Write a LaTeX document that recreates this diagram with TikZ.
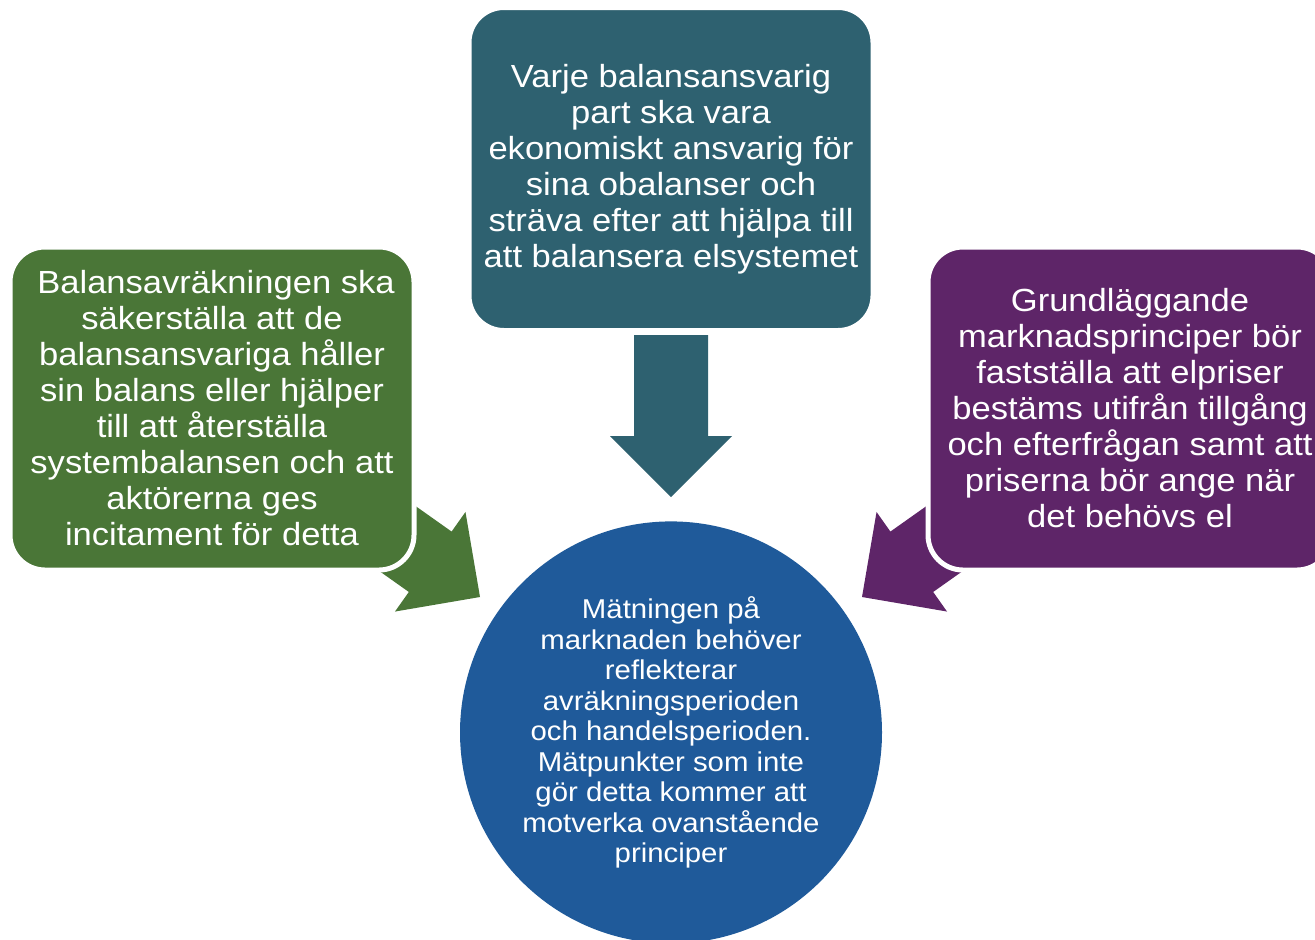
\documentclass[tikz,border=0pt]{standalone}
\usepackage{fontspec}
\setmainfont{Liberation Sans}[FakeStretch=1.08]
\usetikzlibrary{positioning}
\definecolor{slate}{HTML}{2E6170}
\definecolor{leaf}{HTML}{4A7637}
\definecolor{plum}{HTML}{5E2568}
\definecolor{hubblue}{HTML}{1F5A9A}

\begin{document}
\begin{tikzpicture}[
    x=0.5pt, y=-0.5pt,
    box/.style={rectangle, draw=white, line width=2.5pt, rounded corners=17.5pt, minimum width=202pt, minimum height=161.5pt, text=white, align=center, font=\fontsize{16}{18}\selectfont},
    hub/.style={circle, fill=hubblue, minimum size=211pt, inner sep=0pt, text=white, align=center, font=\fontsize{13.6}{15.25}\selectfont},
    blockarrow/.pic={\path[pic actions] (0,0) -- (-61,-61) -- (-61,-37) -- (-162,-37) -- (-162,37) -- (-61,37) -- (-61,61) -- cycle;}
]
\useasboundingbox (0,0) rectangle (1315,939);

% tips of the three block arrows
\coordinate (toptip) at (671,497);
\coordinate (lefttip) at (480,597);
\coordinate (righttip) at (862,597);

\pic[fill=slate, rotate=-90] at (toptip) {blockarrow};
\pic[fill=leaf, rotate=-35.3] at (lefttip) {blockarrow};
\pic[fill=plum, rotate=-144.7] at (righttip) {blockarrow};

\node[box, fill=slate] (duty) at (671,169) {Varje balansansvarig\\part ska vara\\ekonomiskt ansvarig för\\sina obalanser och\\sträva efter att hjälpa till\\att balansera elsystemet};
\node[box, fill=leaf] (settle) at (212,408.5) {\hspace{4pt}Balansavräkningen ska\\säkerställa att de\\balansansvariga håller\\sin balans eller hjälper\\till att återställa\\systembalansen och att\\aktörerna ges\\incitament för detta};
\node[box, fill=plum] (market) at (1130,408.5) {Grundläggande\\marknadsprinciper bör\\fastställa att elpriser\\bestäms utifrån tillgång\\och efterfrågan samt att\\priserna bör ange när\\det behövs el};
\node[hub, below=94pt of duty] (meter) {Mätningen på\\marknaden behöver\\reflekterar\\avräkningsperioden\\och handelsperioden.\\Mätpunkter som inte\\gör detta kommer att\\motverka ovanstående\\principer};

\end{tikzpicture}
\end{document}
